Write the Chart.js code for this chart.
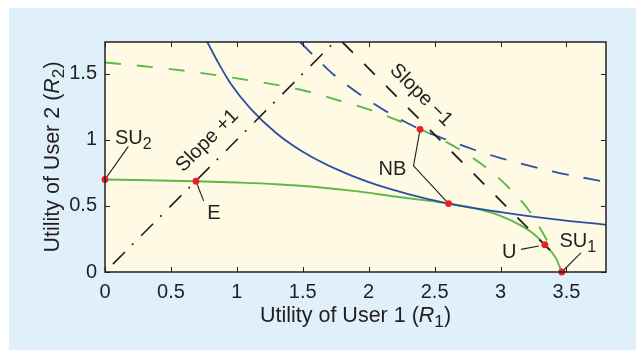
<!DOCTYPE html>
<html><head><meta charset="utf-8">
<script src="https://cdn.jsdelivr.net/npm/chart.js@4/dist/chart.umd.min.js"></script>
<style>html,body{margin:0;padding:0;background:#fff;}canvas{display:block;}</style>
</head><body>
<canvas id="c" width="636" height="350"></canvas>
<script>
// ---- data ----
const xTicks = [0, 0.5, 1, 1.5, 2, 2.5, 3, 3.5];
const yTicks = [0, 0.5, 1, 1.5];

const greenSolidX = [0, 0.69, 1.0, 1.3, 1.6, 1.9, 2.2, 2.4, 2.606, 2.8, 3.0, 3.15, 3.25, 3.336, 3.42, 3.465];
const greenSolidY = [0.70, 0.687, 0.677, 0.664, 0.643, 0.612, 0.571, 0.546, 0.518, 0.483, 0.425, 0.355, 0.29, 0.207, 0.105, 0];

const greenDashX = [0, 0.5, 1.0, 1.5, 1.8, 2.0, 2.2, 2.39, 2.49, 2.7, 2.85, 3.03, 3.22, 3.37];
const greenDashY = [1.585, 1.535, 1.465, 1.375, 1.29, 1.23, 1.155, 1.079, 1.035, 0.92, 0.82, 0.67, 0.46, 0.21];

const blueSolidX = [0.776, 0.85, 0.95, 1.1, 1.3, 1.5, 1.75, 2.0, 2.3, 2.606, 3.0, 3.4, 3.8];
const blueSolidY = [1.74, 1.60, 1.43, 1.24, 1.05, 0.91, 0.78, 0.68, 0.59, 0.518, 0.453, 0.40, 0.357];

const blueDashX = [1.48, 1.6, 1.75, 2.1, 2.39, 2.5, 2.8, 3.0, 3.4, 3.8];
const blueDashY = [1.74, 1.62, 1.48, 1.235, 1.079, 1.035, 0.925, 0.862, 0.76, 0.68];

const slopeMinusX = [1.8, 3.46];
const slopeMinusY = [1.74, 0.08];
const slopePlusX = [0.06, 1.74];
const slopePlusY = [0.06, 1.74];

const pointNames = ['SU2', 'E', 'NB', 'NB\'', 'U', 'SU1'];
const pointX = [0, 0.69, 2.606, 2.39, 3.336, 3.465];
const pointY = [0.70, 0.687, 0.518, 1.079, 0.207, 0];

const leaderNBX = [2.39, 2.34, 2.606];
const leaderNBY = [1.079, 0.803, 0.518];
const leaderEX = [0.69, 0.748];
const leaderEY = [0.687, 0.538];
const leaderSU2X = [0, 0.177];
const leaderSU2Y = [0.70, 0.95];
const leaderUX = [3.155, 3.29];
const leaderUY = [0.171, 0.197];
const leaderSU1X = [3.61, 3.465];
const leaderSU1Y = [0.144, 0];

// ---- styles ----
const FONT = "'Liberation Sans', Arial, Helvetica, sans-serif";
const INK = '#231f20';
const GREEN = '#5cb848';
const BLUE = '#2c4fa3';
const RED = '#ee1c25';

const pts = (xs, ys) => xs.map((x, i) => ({x: x, y: ys[i]}));

function lineDs(xs, ys, color, width, dash, order, smooth) {
  return {
    data: pts(xs, ys), showLine: true, borderColor: color, borderWidth: width,
    borderDash: dash || [], pointRadius: 0, pointHoverRadius: 0, order: order,
    cubicInterpolationMode: smooth ? 'monotone' : 'default', tension: 0, fill: false
  };
}

const datasets = [
  {data: pts(pointX, pointY), showLine: false, pointRadius: 3.4, pointBackgroundColor: RED,
   pointBorderWidth: 0, pointBorderColor: RED, order: 0, clip: false},
  lineDs(leaderNBX, leaderNBY, INK, 1.1, null, 1),
  lineDs(leaderEX, leaderEY, INK, 1.1, null, 1),
  lineDs(leaderSU2X, leaderSU2Y, INK, 1.1, null, 1),
  lineDs(leaderUX, leaderUY, INK, 1.1, null, 1),
  lineDs(leaderSU1X, leaderSU1Y, INK, 1.1, null, 1),
  lineDs(slopeMinusX, slopeMinusY, INK, 1.8, [15, 16], 2),
  lineDs(slopePlusX, slopePlusY, INK, 1.6, [17, 10, 2, 11], 2),
  lineDs(blueSolidX, blueSolidY, BLUE, 1.8, null, 3, true),
  lineDs(blueDashX, blueDashY, BLUE, 1.8, [17, 15], 3, true),
  lineDs(greenSolidX, greenSolidY, GREEN, 1.9, null, 4, true),
  lineDs(greenDashX, greenDashY, GREEN, 1.9, [16, 16], 4, true)
];

function drawRich(ctx, parts, x, y, size, align) {
  const segs = parts.map(p => {
    const s = p.sub ? size * 0.8 : size;
    ctx.font = (p.it ? 'italic ' : '') + s + 'px ' + FONT;
    return {p: p, s: s, w: ctx.measureText(p.t).width};
  });
  const total = segs.reduce((a, g) => a + g.w, 0);
  let cx = align === 'center' ? x - total / 2 : x;
  ctx.textAlign = 'left';
  ctx.textBaseline = 'alphabetic';
  for (const g of segs) {
    ctx.font = (g.p.it ? 'italic ' : '') + g.s + 'px ' + FONT;
    ctx.fillText(g.p.t, cx, y + (g.p.sub ? size * 0.26 : 0));
    cx += g.w;
  }
}

const labels = [
  {parts: [{t: 'SU'}, {t: '2', sub: true}], x: 0.076, y: 0.971},
  {parts: [{t: 'E'}], x: 0.775, y: 0.404},
  {parts: [{t: 'NB'}], x: 2.074, y: 0.733},
  {parts: [{t: 'U'}], x: 3.011, y: 0.109},
  {parts: [{t: 'SU'}, {t: '1', sub: true}], x: 3.447, y: 0.189}
];
const rotLabels = [
  {text: 'Slope +1', x: 0.78, y: 0.99, angle: -45},
  {text: 'Slope \u22121', x: 2.395, y: 1.335, angle: 45}
];
const LABEL_SIZE = 20;

const decor = {
  id: 'decor',
  beforeDraw(chart) {
    const ctx = chart.ctx, a = chart.chartArea;
    ctx.save();
    ctx.fillStyle = '#ffffff';
    ctx.fillRect(0, 0, chart.width, chart.height);
    ctx.fillStyle = '#dff0fb';
    ctx.fillRect(9, 8, chart.width - 9, chart.height - 8);
    ctx.fillStyle = '#fefae3';
    ctx.fillRect(a.left, a.top, a.right - a.left, a.bottom - a.top);
    ctx.restore();
  },
  afterDraw(chart) {
    const ctx = chart.ctx, a = chart.chartArea;
    const xs = chart.scales.x, ys = chart.scales.y;
    ctx.save();
    ctx.strokeStyle = INK;
    ctx.lineWidth = 1;
    ctx.beginPath();
    xTicks.forEach(v => {
      const p = Math.round(xs.getPixelForValue(v)) + 0.5;
      ctx.moveTo(p, a.bottom); ctx.lineTo(p, a.bottom - 5);
      ctx.moveTo(p, a.top); ctx.lineTo(p, a.top + 5);
    });
    yTicks.forEach(v => {
      const p = Math.round(ys.getPixelForValue(v)) + 0.5;
      ctx.moveTo(a.left, p); ctx.lineTo(a.left + 5, p);
      ctx.moveTo(a.right, p); ctx.lineTo(a.right - 5, p);
    });
    ctx.stroke();
    ctx.lineWidth = 1.5;
    ctx.strokeRect(a.left, a.top, a.right - a.left, a.bottom - a.top);

    ctx.fillStyle = INK;
    labels.forEach(l => drawRich(ctx, l.parts, xs.getPixelForValue(l.x), ys.getPixelForValue(l.y), LABEL_SIZE, 'left'));
    rotLabels.forEach(l => {
      ctx.save();
      ctx.translate(xs.getPixelForValue(l.x), ys.getPixelForValue(l.y));
      ctx.rotate(l.angle * Math.PI / 180);
      drawRich(ctx, [{t: l.text}], 0, LABEL_SIZE * 0.25, LABEL_SIZE, 'center');
      ctx.restore();
    });
    drawRich(ctx, [{t: 'Utility of User 1 ('}, {t: 'R', it: true}, {t: '1', sub: true}, {t: ')'}],
      (a.left + a.right) / 2, 321.5, 21.5, 'center');
    ctx.save();
    ctx.translate(58.5, (a.top + a.bottom) / 2);
    ctx.rotate(-Math.PI / 2);
    drawRich(ctx, [{t: 'Utility of User 2 ('}, {t: 'R', it: true}, {t: '2', sub: true}, {t: ')'}], 0, 0, 21.5, 'center');
    ctx.restore();
    ctx.restore();
  }
};

new Chart(document.getElementById('c'), {
  type: 'scatter',
  data: {datasets: datasets},
  plugins: [decor],
  options: {
    responsive: false, animation: false, devicePixelRatio: 1,
    layout: {padding: {top: 42, right: 30, left: 0, bottom: 0}},
    plugins: {legend: {display: false}, tooltip: {enabled: false}},
    events: [],
    scales: {
      x: {
        type: 'linear', min: 0, max: 3.8,
        grid: {display: false, drawTicks: false}, border: {display: false},
        afterBuildTicks: s => { s.ticks = xTicks.map(v => ({value: v})); },
        afterFit: s => { s.height = 78; },
        ticks: {padding: 8, color: INK, font: {family: FONT, size: 20}, maxRotation: 0, callback: v => String(v)}
      },
      y: {
        type: 'linear', min: 0, max: 1.74,
        grid: {display: false, drawTicks: false}, border: {display: false},
        afterBuildTicks: s => { s.ticks = yTicks.map(v => ({value: v})); },
        afterFit: s => { s.width = 105; },
        ticks: {padding: 8, color: INK, font: {family: FONT, size: 20}, callback: v => String(v)}
      }
    }
  }
});
</script>
</body></html>
